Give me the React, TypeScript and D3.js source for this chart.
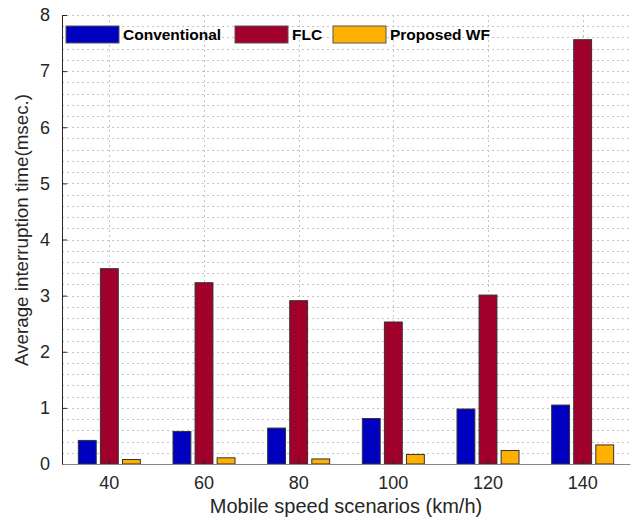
import React, { useRef, useEffect } from 'react';
import * as d3 from 'd3';

const speeds = ['40', '60', '80', '100', '120', '140'];
const seriesNames = ['Conventional', 'FLC', 'Proposed WF'];
const conventional = [0.42, 0.58, 0.64, 0.81, 0.98, 1.05];
const flc = [3.48, 3.23, 2.91, 2.53, 3.01, 7.56];
const proposedWF = [0.08, 0.11, 0.09, 0.17, 0.24, 0.34];
const colors = ['#0000C0', '#A0002A', '#FFB000'];
const yTicks = [0, 1, 2, 3, 4, 5, 6, 7, 8];

const App = () => {
  const Svg = useRef<SVGSVGElement>(null);

  useEffect(() => {
    const svg = d3.select(Svg.current);
    svg.selectAll('*').remove();

    const left = 62;
    const right = 630;
    const top = 15;
    const bottom = 464;
    const font = '"Liberation Sans", Arial, sans-serif';
    const axisColor = '#262626';
    const values = [conventional, flc, proposedWF];

    const x = d3.scaleBand().domain(speeds).range([left, right]).paddingInner(0);
    const xSub = d3.scaleBand().domain(seriesNames).range([-31, 31]).paddingInner(0.19);
    const y = d3.scaleLinear().domain([0, 8]).range([bottom, top]);

    // grid: minor every 0.2, major at integers
    const grid = svg.append('g');
    const minor = d3.range(0, 8.001, 0.2);
    grid
      .selectAll('line.h')
      .data(minor)
      .enter()
      .append('line')
      .attr('x1', left)
      .attr('x2', right)
      .attr('y1', (d) => Math.round(y(d)) + 0.5)
      .attr('y2', (d) => Math.round(y(d)) + 0.5)
      .attr('stroke', '#c4c4c4')
      .attr('stroke-width', 1)
      .attr('stroke-dasharray', '2,3');
    grid
      .selectAll('line.v')
      .data(speeds)
      .enter()
      .append('line')
      .attr('x1', (d) => Math.round(x(d)! + x.bandwidth() / 2) + 0.5)
      .attr('x2', (d) => Math.round(x(d)! + x.bandwidth() / 2) + 0.5)
      .attr('y1', top)
      .attr('y2', bottom)
      .attr('stroke', '#c4c4c4')
      .attr('stroke-width', 1)
      .attr('stroke-dasharray', '2,3');

    // bars
    values.forEach((vals, si) => {
      svg
        .append('g')
        .selectAll('rect')
        .data(vals)
        .enter()
        .append('rect')
        .attr('x', (d, i) => x(speeds[i])! + x.bandwidth() / 2 + xSub(seriesNames[si])!)
        .attr('y', (d) => y(d))
        .attr('width', xSub.bandwidth())
        .attr('height', (d) => bottom - y(d))
        .attr('fill', colors[si])
        .attr('stroke', '#333')
        .attr('stroke-width', 1);
    });

    // axes
    const yAxis = d3
      .axisLeft(y)
      .tickValues(yTicks)
      .tickSize(-5)
      .tickPadding(12)
      .tickFormat(d3.format('d'));
    const gy = svg.append('g').attr('transform', `translate(${left},0)`).call(yAxis);
    gy.select('.domain').attr('stroke', axisColor);
    gy.selectAll('.tick line').attr('stroke', axisColor);
    gy.selectAll('.tick text')
      .attr('font-family', font)
      .attr('font-size', 18)
      .attr('fill', axisColor);

    const xAxis = d3.axisBottom(x).tickSize(-5).tickPadding(12).tickSizeOuter(0);
    const gx = svg.append('g').attr('transform', `translate(0,${bottom})`).call(xAxis);
    gx.select('.domain').attr('stroke', '#888');
    gx.selectAll('.tick line').attr('stroke', axisColor);
    gx.selectAll('.tick text')
      .attr('font-family', font)
      .attr('font-size', 18)
      .attr('fill', axisColor);

    // axis titles
    svg
      .append('text')
      .attr('x', (left + right) / 2)
      .attr('y', 513)
      .attr('text-anchor', 'middle')
      .attr('font-family', font)
      .attr('font-size', 20)
      .attr('fill', axisColor)
      .text('Mobile speed scenarios (km/h)');
    svg
      .append('text')
      .attr('transform', `translate(28,${230}) rotate(-90)`)
      .attr('text-anchor', 'middle')
      .attr('font-family', font)
      .attr('font-size', 18.8)
      .attr('fill', axisColor)
      .text('Average interruption time(msec.)');

    // legend
    const legendX = [66, 235, 333];
    const leg = svg.append('g');
    seriesNames.forEach((name, i) => {
      leg
        .append('rect')
        .attr('x', legendX[i])
        .attr('y', 26)
        .attr('width', 53)
        .attr('height', 17)
        .attr('fill', colors[i])
        .attr('stroke', '#555')
        .attr('stroke-width', 1);
      leg
        .append('text')
        .attr('x', legendX[i] + 57)
        .attr('y', 40)
        .attr('font-family', font)
        .attr('font-size', 15.5)
        .attr('font-weight', 'bold')
        .attr('fill', '#000')
        .text(name);
    });
  }, []);

  return (
    <svg
      ref={Svg}
      width={640}
      height={528}
      style={{ position: 'absolute', left: 0, top: 0, background: '#fff' }}
    />
  );
};

export default App;
